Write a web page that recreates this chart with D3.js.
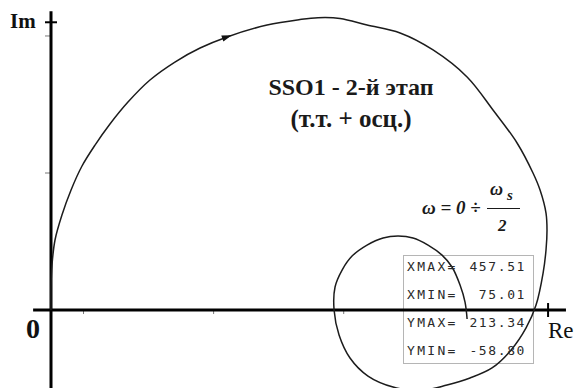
<!DOCTYPE html>
<html>
<head>
<meta charset="utf-8">
<script src="https://cdn.jsdelivr.net/npm/d3@7"></script>
<style>
  html, body { margin: 0; padding: 0; background: #ffffff; }
  svg { display: block; }
  .serif { font-family: 'Liberation Serif', 'Times New Roman', 'DejaVu Serif', serif; }
  .mono { font-family: 'DejaVu Sans Mono', 'Liberation Mono', monospace; }
</style>
</head>
<body>
<svg id="chart" width="576" height="388"></svg>
<script>
// Hodograph of the frequency response, ω from 0 to ωs/2 (Re, Im pairs)
const reValues = [
  0, 0, 0.9, 3.7, 10.1, 18.5, 28.6, 40.6, 54.4, 71.0, 91.3, 114.3, 137.5,
  162.4, 199.3, 229.7, 246.3, 266.6, 291.5, 322.0, 352.4, 383.8, 407.7, 429.9,
  444.6, 451.1, 456.6, 457.51, 456.6, 453.9, 447.4, 438.2, 424.4, 406.8, 386.5,
  365.3, 340.4, 315.5, 292.4, 275.8, 265.7, 261.1, 262.0, 268.5, 277.7, 291.5,
  306.3, 320.1, 333.9, 347.8, 360.7, 369.9, 377.3, 381.9, 383.8
];
const imValues = [
  0, 16.1, 32.8, 51.1, 69.3, 87.6, 105.1, 120.4, 135.8, 151.8, 167.9, 181.0,
  191.2, 199.3, 208.0, 212.0, 213.34, 212.8, 208.0, 202.2, 189.8, 170.1,
  146.0, 121.9, 100.0, 87.6, 70.8, 58.4, 43.8, 27.0, 3.6, -13.1, -29.2, -42.3,
  -49.6, -54.7, -58.8, -56.2, -48.2, -35.0, -18.2, 0, 16.8, 29.2, 39.4, 47.4,
  52.6, 54.0, 52.6, 47.4, 40.1, 31.4, 18.2, 5.8, -6.5
];

// Axis extents, end marks and small tick marks
const reAxisExtent = [-16.5, 475];
const imAxisExtent = [-60, 218];
const reEndMark = 458.5;
const imEndMark = 210;
const xTicks = [30, 150, 270];
const yTicks = [100, 200];

// Texts
const titleLines = ["SSO1 - 2-й этап", "(т.т. + осц.)"];
const boxLabels = ["XMAX=", "XMIN=", "YMAX=", "YMIN="];
const boxValues = ["457.51", "75.01", "213.34", "-58.80"];

const svg = d3.select("#chart");

const x = d3.scaleLinear().domain([0, 457.51]).range([51, 547]);
const y = d3.scaleLinear().domain([-58.8, 213.34]).range([390.6, 17.7]);

const points = reValues.map((r, i) => [r, imValues[i]]);

// Small ticks on the axes
svg.append("g").selectAll("line").data(xTicks).join("line")
  .attr("x1", d => x(d)).attr("x2", d => x(d))
  .attr("y1", y(0)).attr("y2", y(0) + 4)
  .attr("stroke", "#777").attr("stroke-width", 1);
svg.append("g").selectAll("line").data(yTicks).join("line")
  .attr("x1", x(0) - 6).attr("x2", x(0))
  .attr("y1", d => y(d)).attr("y2", d => y(d))
  .attr("stroke", "#777").attr("stroke-width", 1);

// Value box frame
svg.append("rect")
  .attr("x", 403.5).attr("y", 255.5).attr("width", 130).attr("height", 108)
  .attr("fill", "none").attr("stroke", "#b5b5b5").attr("stroke-width", 1);

// Axes
svg.append("line")
  .attr("x1", x(reAxisExtent[0])).attr("x2", x(reAxisExtent[1]))
  .attr("y1", y(0)).attr("y2", y(0))
  .attr("stroke", "#000").attr("stroke-width", 3);
svg.append("line")
  .attr("x1", x(0)).attr("x2", x(0))
  .attr("y1", y(imAxisExtent[1])).attr("y2", y(imAxisExtent[0]))
  .attr("stroke", "#000").attr("stroke-width", 3);
svg.append("line")
  .attr("x1", x(reEndMark)).attr("x2", x(reEndMark))
  .attr("y1", y(0) - 7).attr("y2", y(0) + 7)
  .attr("stroke", "#000").attr("stroke-width", 2);
svg.append("line")
  .attr("x1", x(0) - 6).attr("x2", x(0) + 6)
  .attr("y1", y(imEndMark)).attr("y2", y(imEndMark))
  .attr("stroke", "#000").attr("stroke-width", 2);

// Curve
const line = d3.line()
  .x(d => x(d[0])).y(d => y(d[1]))
  .curve(d3.curveCatmullRom.alpha(0.5));
svg.append("path")
  .datum(points)
  .attr("d", line)
  .attr("fill", "none")
  .attr("stroke", "#1c1c1c")
  .attr("stroke-width", 1.5)
  .attr("stroke-linejoin", "round");

// Direction arrow on the upper arc
{
  const i = 13;
  const p = [x(points[i][0]), y(points[i][1])];
  const a = [x(points[i - 1][0]), y(points[i - 1][1])];
  const b = [x(points[i + 1][0]), y(points[i + 1][1])];
  const ang = Math.atan2(b[1] - a[1], b[0] - a[0]) * 180 / Math.PI;
  svg.append("path")
    .attr("d", "M5,0 L-5,-3.2 L-5,3.2 Z")
    .attr("transform", `translate(${p[0]},${p[1]}) rotate(${ang})`)
    .attr("fill", "#111");
}

// Axis names
svg.append("text").attr("class", "serif").attr("x", 10).attr("y", 28)
  .attr("font-weight", "bold").attr("font-size", 21).attr("fill", "#111")
  .text("Im");
svg.append("text").attr("class", "serif").attr("x", 548).attr("y", 338)
  .attr("font-size", 23).attr("fill", "#111")
  .text("Re");
svg.append("text").attr("class", "serif").attr("x", 26).attr("y", 338)
  .attr("font-weight", "bold").attr("font-size", 28).attr("fill", "#111")
  .text("0");

// Title
svg.append("g").selectAll("text").data(titleLines).join("text")
  .attr("class", "serif")
  .attr("x", 351).attr("y", (d, i) => 95 + i * 32)
  .attr("text-anchor", "middle")
  .attr("font-weight", "bold").attr("font-size", (d, i) => i === 0 ? 24 : 25)
  .attr("fill", "#1a1a1a")
  .text(d => d);

// Frequency range formula: ω = 0 ÷ ωs / 2
const formula = svg.append("g").attr("class", "serif")
  .attr("font-style", "italic").attr("font-weight", "bold").attr("fill", "#1a1a1a");
formula.append("text").attr("x", 422).attr("y", 214).attr("font-size", 19)
  .text("ω = 0 ÷");
formula.append("text").attr("x", 490).attr("y", 195).attr("font-size", 18).text("ω");
formula.append("text").attr("x", 507).attr("y", 200).attr("font-size", 15).text("s");
formula.append("line").attr("x1", 487).attr("x2", 520).attr("y1", 208.5).attr("y2", 208.5)
  .attr("stroke", "#1a1a1a").attr("stroke-width", 1.2);
formula.append("text").attr("x", 498).attr("y", 231).attr("font-size", 17).text("2");

// Value box contents
const rows = svg.append("g").attr("class", "mono")
  .attr("font-size", 13).attr("fill", "#2a2a2a");
rows.selectAll("text.lab").data(boxLabels).join("text")
  .attr("class", "lab")
  .attr("x", 407).attr("y", (d, i) => 271 + i * 28)
  .attr("letter-spacing", 2.3)
  .text(d => d);
rows.selectAll("text.val").data(boxValues).join("text")
  .attr("class", "val")
  .attr("x", 526).attr("y", (d, i) => 271 + i * 28)
  .attr("text-anchor", "end")
  .attr("letter-spacing", 1.6)
  .text(d => d);
</script>
</body>
</html>
